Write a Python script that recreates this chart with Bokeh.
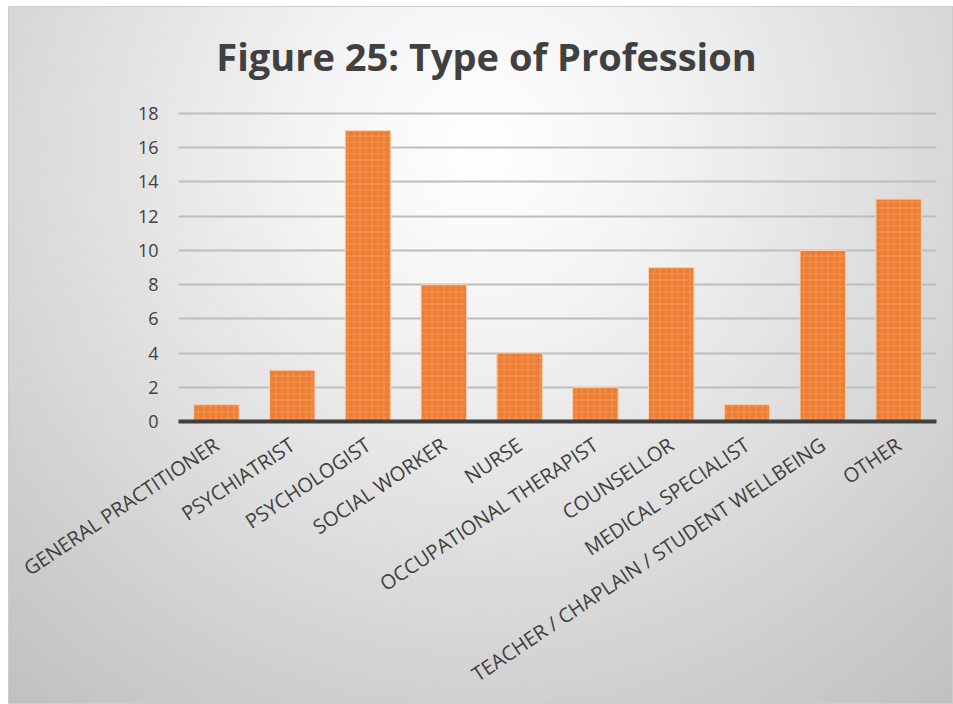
import math
from bokeh.plotting import figure
from bokeh.models import Range1d, Label
from bokeh.embed import file_html
from bokeh.resources import INLINE

categories = ["GENERAL PRACTITIONER", "PSYCHIATRIST", "PSYCHOLOGIST", "SOCIAL WORKER",
              "NURSE", "OCCUPATIONAL THERAPIST", "COUNSELLOR", "MEDICAL SPECIALIST",
              "TEACHER / CHAPLAIN / STUDENT WELLBEING", "OTHER"]
counts = [1, 3, 17, 8, 4, 2, 9, 1, 10, 13]
y_ticks = [0, 2, 4, 6, 8, 10, 12, 14, 16, 18]
title_text = "Figure 25: Type of Profession"

FONT = "Open Sans"
TXT = "#404040"
W, H = 945, 698

# frame extends up to the top so the title can sit inside it; 18 stays at the same pixel height
p = figure(x_range=categories, y_range=Range1d(0, 23.79),
           width=W, height=H, output_backend="svg", toolbar_location=None,
           min_border_left=170, min_border_right=17, min_border_top=8, min_border_bottom=283)
p.margin = (6, 0, 0, 8)

p.styles = {
    "background": "radial-gradient(circle farthest-corner at 50% 20%, #ffffff 0%, #f3f3f3 25%, #c0c0c0 100%)",
    "box-shadow": "inset 0 0 0 1px #cdcdcd",
}
p.border_fill_color = None
p.background_fill_color = None
p.outline_line_color = None

p.vbar(x=categories, top=counts, width=0.6, bottom=0,
       fill_color="#ED7D31", line_color="#F9D2B6", line_width=1,
       hatch_pattern="cross", hatch_scale=6, hatch_weight=1,
       hatch_color="#F7BE96", hatch_alpha=0.35)

# screen units are relative to the plot frame (origin at its bottom-left)
title = Label(text=title_text, x=308, y=366, x_units="screen", y_units="screen",
              text_align="center", text_baseline="middle",
              text_font=FONT, text_font_size="38px", text_font_style="bold", text_color=TXT)
p.add_layout(title)

p.yaxis.ticker = y_ticks
p.yaxis.axis_line_color = None
p.yaxis.major_tick_line_color = None
p.yaxis.minor_tick_line_color = None
p.yaxis.major_tick_out = 0
p.yaxis.major_label_standoff = 20
p.yaxis.major_label_text_font = FONT
p.yaxis.major_label_text_font_size = "18px"
p.yaxis.major_label_text_color = TXT

p.xaxis.axis_line_color = "#404040"
p.xaxis.axis_line_width = 4
p.xaxis.major_tick_line_color = None
p.xaxis.major_tick_out = 0
p.xaxis.major_label_standoff = 21
p.xaxis.major_label_orientation = 0.59
p.xaxis.major_label_text_font = FONT
p.xaxis.major_label_text_font_size = "20px"
p.xaxis.major_label_text_color = TXT

p.xgrid.grid_line_color = None
p.ygrid.grid_line_color = "#bdbdbd"
p.ygrid.grid_line_width = 2

open("out.html", "w").write(file_html(p, INLINE))
